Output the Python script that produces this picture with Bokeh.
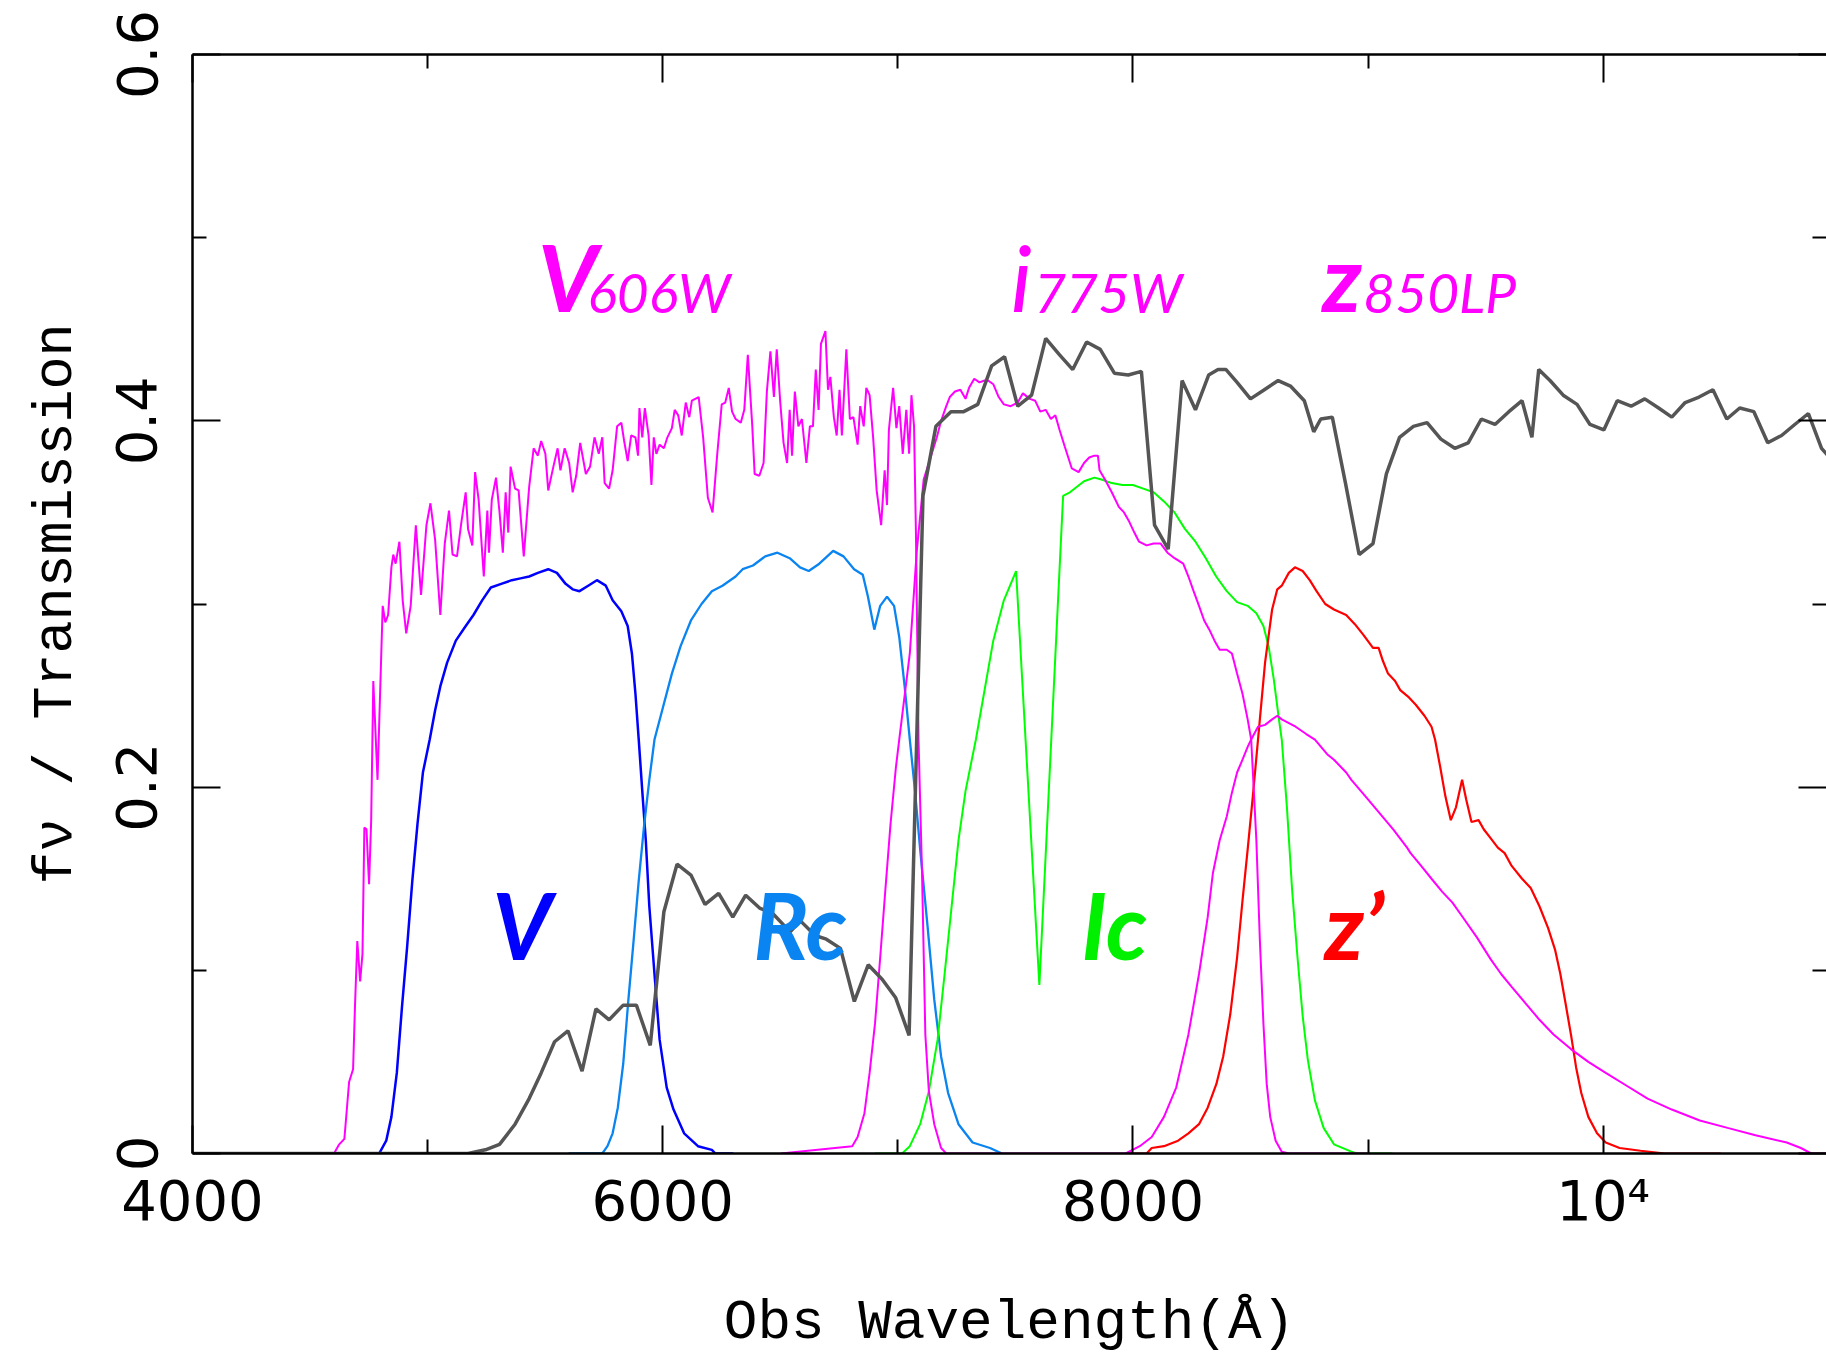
from bokeh.plotting import figure
from bokeh.models import FixedTicker, LinearAxis, Range1d
from bokeh.core.properties import value
from bokeh.embed import file_html
from bokeh.resources import INLINE

# ---------------- data ----------------
GAL_WL = [4000, 5172, 5246, 5306, 5372, 5432, 5483, 5540, 5597, 5657, 5716, 5772, 5832, 5888, 5947,
          6005, 6061, 6120, 6180, 6238, 6298, 6353, 6412, 6468, 6542, 6586, 6648, 6696, 6756, 6815,
          6874, 6934, 6991, 7048, 7107, 7162, 7226, 7280, 7340, 7399, 7454, 7510, 7569, 7629, 7688,
          7744, 7803, 7861, 7921, 7980, 8036, 8092, 8150, 8209, 8266, 8322, 8362, 8396, 8443, 8500,
          8559, 8618, 8670, 8729, 8769, 8799, 8848, 8904, 8962, 9021, 9078, 9134, 9193, 9251, 9310,
          9369, 9426, 9482, 9540, 9599, 9655, 9697, 9726, 9774, 9830, 9889, 9944, 10003, 10060, 10119,
          10177, 10236, 10292, 10349, 10408, 10467, 10526, 10581, 10641, 10700, 10759, 10815, 10873,
          10929, 10956, 11000]
GAL_FNU = [0.0, 0.0, 0.002, 0.005, 0.016, 0.030, 0.044, 0.061, 0.067, 0.045, 0.079, 0.073, 0.081, 0.081, 0.059,
           0.132, 0.158, 0.152, 0.136, 0.142, 0.129, 0.141, 0.134, 0.131, 0.121, 0.127, 0.119, 0.117, 0.112, 0.083,
           0.103, 0.095, 0.085, 0.0645, 0.359, 0.397, 0.405, 0.405, 0.409, 0.430, 0.435, 0.408, 0.414, 0.445, 0.436,
           0.428, 0.443, 0.439, 0.426, 0.425, 0.427, 0.343, 0.330, 0.422, 0.406, 0.425, 0.428, 0.428, 0.421, 0.412,
           0.417, 0.422, 0.419, 0.411, 0.394, 0.401, 0.402, 0.366, 0.327, 0.333, 0.371, 0.391, 0.397, 0.399, 0.390,
           0.385, 0.388, 0.401, 0.398, 0.405, 0.411, 0.391, 0.428, 0.422, 0.414, 0.409, 0.398, 0.395, 0.411, 0.408,
           0.412, 0.407, 0.402, 0.410, 0.413, 0.417, 0.401, 0.407, 0.405, 0.388, 0.392, 0.398, 0.404,
           0.385, 0.381, 0.372]

V606_WL = [4500, 4602, 4624, 4646, 4657, 4666, 4683, 4691, 4701, 4713, 4723, 4731, 4740, 4751, 4760, 4769, 4787,
           4809, 4820, 4832, 4846, 4854, 4864, 4880, 4894, 4909, 4928, 4950, 4972, 4995, 5012, 5032, 5054, 5073,
           5091, 5106, 5125, 5143, 5162, 5172, 5190, 5202, 5217, 5239, 5254, 5261, 5273, 5291, 5306, 5320, 5332,
           5343, 5353, 5372, 5387, 5409, 5432, 5451, 5469, 5483, 5501, 5513, 5535, 5553, 5565, 5583, 5602, 5617,
           5632, 5649, 5673, 5691, 5710, 5728, 5743, 5753, 5772, 5787, 5806, 5824, 5836, 5851, 5866, 5884, 5895,
           5901, 5913, 5924, 5940, 5952, 5962, 5973, 5987, 6005, 6020, 6039, 6051, 6066, 6081, 6098, 6113, 6124,
           6153, 6172, 6192, 6212, 6232, 6251, 6266, 6281, 6295, 6310, 6332, 6347, 6362, 6381, 6391, 6411, 6429,
           6443, 6458, 6473, 6485, 6500, 6514, 6529, 6540, 6550, 6562, 6577, 6592, 6611, 6626, 6639, 6651, 6663,
           6673, 6692, 6703, 6713, 6728, 6740, 6752, 6762, 6781, 6796, 6811, 6829, 6840, 6855, 6866, 6880, 6895,
           6910, 6929, 6944, 6954, 6962, 6980, 6994, 7006, 7021, 7036, 7048, 7058, 7069, 7077, 7088, 7103, 7117,
           7132, 7155, 7184, 7206, 8000]
V606_T = [0.0, 0.0, 0.005, 0.008, 0.025, 0.039, 0.046, 0.080, 0.116, 0.094, 0.109, 0.178, 0.177, 0.147, 0.182, 0.258, 0.204,
          0.299, 0.290, 0.294, 0.320, 0.327, 0.322, 0.334, 0.302, 0.284, 0.299, 0.343, 0.305, 0.343, 0.355, 0.335, 0.294, 0.333,
          0.351, 0.327, 0.326, 0.344, 0.361, 0.341, 0.332, 0.372, 0.357, 0.315, 0.351, 0.328, 0.357, 0.369, 0.350, 0.328, 0.361,
          0.339, 0.375, 0.363, 0.362, 0.326, 0.364, 0.385, 0.381, 0.389, 0.382, 0.362, 0.375, 0.385, 0.373, 0.385, 0.377, 0.361,
          0.370, 0.388, 0.371, 0.375, 0.391, 0.382, 0.391, 0.366, 0.363, 0.373, 0.397, 0.399, 0.389, 0.378, 0.392, 0.391, 0.381,
          0.407, 0.391, 0.407, 0.392, 0.365, 0.391, 0.382, 0.387, 0.385, 0.391, 0.396, 0.406, 0.403, 0.392, 0.410, 0.402, 0.411,
          0.413, 0.391, 0.358, 0.350, 0.382, 0.409, 0.410, 0.418, 0.405, 0.401, 0.399, 0.406, 0.436, 0.397, 0.371, 0.370, 0.377,
          0.416, 0.438, 0.413, 0.439, 0.410, 0.388, 0.377, 0.406, 0.381, 0.416, 0.397, 0.401, 0.377, 0.397, 0.397, 0.428, 0.406,
          0.442, 0.449, 0.417, 0.424, 0.402, 0.392, 0.417, 0.392, 0.439, 0.401, 0.402, 0.387, 0.408, 0.397, 0.418, 0.414, 0.391,
          0.362, 0.343, 0.373, 0.354, 0.395, 0.418, 0.396, 0.408, 0.382, 0.406, 0.382, 0.414, 0.397, 0.339, 0.226, 0.153, 0.065,
          0.034, 0.016, 0.003, 0.0, 0.0]

I775_WL = [6503, 6806, 6829, 6858, 6880, 6903, 6925, 6947, 6969, 6992, 7006, 7051, 7080, 7110, 7166, 7184, 7206,
           7221, 7243, 7266, 7288, 7303, 7325, 7347, 7369, 7384, 7406, 7429, 7451, 7480, 7510, 7532, 7562, 7584,
           7606, 7629, 7651, 7670, 7688, 7710, 7740, 7769, 7792, 7814, 7836, 7851, 7858, 7881, 7910, 7940, 7962,
           7984, 8006, 8026, 8058, 8088, 8118, 8147, 8177, 8214, 8236, 8258, 8281, 8303, 8325, 8347, 8369, 8399,
           8421, 8443, 8466, 8488, 8503, 8525, 8540, 8555, 8569, 8584, 8607, 8633, 8663, 9000]
I775_T = [0.0, 0.004, 0.009, 0.022, 0.044, 0.071, 0.107, 0.144, 0.180, 0.211, 0.226, 0.273, 0.328, 0.368, 0.391, 0.400, 0.408,
          0.413, 0.416, 0.417, 0.412, 0.418, 0.423, 0.421, 0.422, 0.422, 0.420, 0.413, 0.409, 0.408, 0.410, 0.415, 0.412, 0.411,
          0.405, 0.406, 0.401, 0.403, 0.395, 0.386, 0.374, 0.372, 0.377, 0.380, 0.381, 0.381, 0.373, 0.368, 0.361, 0.353, 0.350,
          0.345, 0.339, 0.334, 0.332, 0.333, 0.333, 0.328, 0.325, 0.322, 0.315, 0.307, 0.299, 0.291, 0.286, 0.280, 0.275, 0.275,
          0.273, 0.262, 0.251, 0.237, 0.226, 0.171, 0.116, 0.071, 0.038, 0.020, 0.007, 0.001, 0.0, 0.0]

Z850_WL = [7969, 8029, 8080, 8132, 8184, 8236, 8281, 8318, 8340, 8369, 8399, 8421, 8443, 8466, 8488, 8503, 8532,
           8562, 8592, 8614, 8633, 8692, 8737, 8774, 8826, 8855, 8907, 8929, 8989, 9048, 9107, 9166, 9181, 9226,
           9270, 9315, 9359, 9403, 9463, 9522, 9566, 9611, 9670, 9729, 9789, 9863, 9937, 10011, 10100, 10189,
           10292, 10411, 10529, 10648, 10781, 10841, 10885, 11000]
Z850_T = [0.0, 0.004, 0.009, 0.020, 0.036, 0.065, 0.098, 0.129, 0.153, 0.171, 0.184, 0.197, 0.208, 0.215, 0.222, 0.226, 0.233,
          0.234, 0.237, 0.239, 0.237, 0.233, 0.229, 0.226, 0.218, 0.215, 0.208, 0.204, 0.195, 0.186, 0.177, 0.167, 0.164, 0.157,
          0.150, 0.143, 0.137, 0.129, 0.118, 0.106, 0.098, 0.091, 0.082, 0.073, 0.065, 0.057, 0.050, 0.044, 0.037, 0.030,
          0.024, 0.018, 0.014, 0.010, 0.006, 0.003, 0.0, 0.0]

V_WL = [4700, 4794, 4824, 4846, 4869, 4891, 4913, 4935, 4957, 4980, 5009, 5032, 5054, 5083, 5120, 5157, 5195, 5232,
        5269, 5313, 5358, 5395, 5432, 5469, 5513, 5550, 5587, 5617, 5646, 5683, 5720, 5758, 5787, 5824, 5851, 5869,
        5884, 5898, 5913, 5928, 5943, 5965, 5987, 6017, 6046, 6091, 6150, 6209, 6224, 6300]
V_T = [0.0, 0.0, 0.007, 0.020, 0.044, 0.080, 0.113, 0.149, 0.180, 0.208, 0.226, 0.242, 0.255, 0.268, 0.280, 0.287, 0.294, 0.302,
       0.309, 0.311, 0.313, 0.314, 0.315, 0.317, 0.319, 0.317, 0.311, 0.308, 0.307, 0.310, 0.313, 0.310, 0.302, 0.296, 0.288, 0.273,
       0.251, 0.226, 0.198, 0.171, 0.135, 0.098, 0.062, 0.036, 0.024, 0.011, 0.004, 0.002, 0.0, 0.0]

RC_WL = [5600, 5743, 5765, 5787, 5809, 5832, 5854, 5876, 5898, 5920, 5943, 5965, 6002, 6039, 6076, 6120, 6165, 6209,
         6254, 6310, 6340, 6384, 6436, 6488, 6540, 6584, 6621, 6666, 6725, 6769, 6814, 6851, 6873, 6900, 6925, 6954,
         6984, 7006, 7029, 7051, 7073, 7095, 7125, 7155, 7184, 7214, 7258, 7318, 7392, 7443]
RC_T = [0.0, 0.0, 0.004, 0.011, 0.025, 0.049, 0.084, 0.116, 0.149, 0.178, 0.204, 0.226, 0.244, 0.262, 0.277, 0.291, 0.300, 0.307,
        0.310, 0.315, 0.319, 0.321, 0.326, 0.328, 0.325, 0.320, 0.318, 0.322, 0.329, 0.326, 0.319, 0.316, 0.304, 0.286, 0.299, 0.304,
        0.299, 0.282, 0.255, 0.226, 0.198, 0.166, 0.126, 0.084, 0.053, 0.033, 0.016, 0.006, 0.003, 0.0]

IC_WL = [6903, 7018, 7051, 7095, 7132, 7169, 7199, 7229, 7258, 7288, 7332, 7406, 7451, 7503, 7602, 7703, 7732, 7762,
         7792, 7836, 7866, 7910, 7955, 8000, 8044, 8088, 8132, 8177, 8221, 8266, 8310, 8354, 8399, 8443, 8488, 8525,
         8555, 8577, 8599, 8621, 8633, 8655, 8677, 8700, 8722, 8744, 8774, 8811, 8855, 8929, 8952, 9104]
IC_T = [0.0, 0.0, 0.004, 0.016, 0.034, 0.062, 0.098, 0.135, 0.171, 0.198, 0.226, 0.280, 0.302, 0.318, 0.092, 0.359, 0.361, 0.364,
        0.367, 0.369, 0.368, 0.366, 0.365, 0.365, 0.363, 0.361, 0.356, 0.350, 0.341, 0.334, 0.325, 0.315, 0.307, 0.301, 0.299, 0.295,
        0.288, 0.277, 0.259, 0.237, 0.226, 0.189, 0.144, 0.107, 0.075, 0.051, 0.029, 0.014, 0.005, 0.001, 0.0, 0.0]

ZP_WL = [7969, 8058, 8080, 8132, 8192, 8236, 8281, 8318, 8355, 8384, 8414, 8443, 8466, 8488, 8510, 8532, 8562, 8592,
         8614, 8633, 8663, 8689, 8722, 8752, 8781, 8818, 8855, 8907, 8944, 8981, 9021, 9045, 9063, 9085, 9115, 9137,
         9174, 9203, 9240, 9270, 9285, 9307, 9329, 9352, 9374, 9400, 9418, 9440, 9470, 9492, 9522, 9552, 9581, 9611,
         9655, 9692, 9729, 9766, 9796, 9818, 9840, 9863, 9885, 9907, 9937, 9974, 10011, 10070, 10159, 10263, 10500]
ZP_T = [0.0, 0.0, 0.003, 0.004, 0.007, 0.011, 0.016, 0.025, 0.038, 0.053, 0.076, 0.107, 0.138, 0.166, 0.195, 0.226, 0.268, 0.297,
        0.308, 0.310, 0.317, 0.320, 0.318, 0.313, 0.307, 0.300, 0.297, 0.294, 0.289, 0.283, 0.276, 0.276, 0.269, 0.262, 0.258, 0.253,
        0.249, 0.245, 0.239, 0.233, 0.226, 0.211, 0.195, 0.182, 0.189, 0.204, 0.193, 0.181, 0.182, 0.177, 0.172, 0.167, 0.164, 0.157,
        0.150, 0.145, 0.135, 0.123, 0.111, 0.098, 0.082, 0.065, 0.047, 0.033, 0.020, 0.011, 0.006, 0.003, 0.0015, 0.0, 0.0]

X_TICKS = [4000, 6000, 8000, 10000]
X_MINOR = [5000, 7000, 9000, 11000]
X_TICK_LABELS = {10000: "10\u2074"}
Y_TICKS = [0, 0.2, 0.4, 0.6]
Y_MINOR = [0.1, 0.3, 0.5]
Y_TICK_LABELS = {0: "0", 0.2: "0.2", 0.4: "0.4", 0.6: "0.6"}

# ---------------- figure ----------------
p = figure(width=1826, height=1357, x_range=Range1d(4000, 10950), y_range=Range1d(0, 0.6),
           output_backend="svg", toolbar_location=None,
           min_border_left=192, min_border_top=54, min_border_bottom=204, min_border_right=0)
p.outline_line_color = None
p.grid.visible = False

TICK_FONT = "DejaVu Sans"
LAB_FONT = "Liberation Mono"

def style_axis(ax):
    ax.axis_line_width = 2.5
    ax.axis_line_color = "black"
    ax.major_tick_in = 28
    ax.major_tick_out = 0
    ax.minor_tick_in = 14
    ax.minor_tick_out = 0
    ax.major_tick_line_width = 2
    ax.minor_tick_line_width = 2
    ax.major_tick_line_color = "black"
    ax.minor_tick_line_color = "black"
    ax.major_label_text_color = "black"
    ax.axis_label_text_color = "black"

xa = p.xaxis[0]
xa.ticker = FixedTicker(ticks=X_TICKS, minor_ticks=X_MINOR)
xa.major_label_overrides = X_TICK_LABELS
xa.major_label_text_font = TICK_FONT
xa.major_label_text_font_size = "56px"
xa.major_label_standoff = 14
xa.axis_label = "Obs Wavelength(\u00c5)"
xa.axis_label_text_font = LAB_FONT
xa.axis_label_text_font_size = "56px"
xa.axis_label_text_font_style = "normal"
xa.axis_label_standoff = 55
style_axis(xa)

ya = p.yaxis[0]
ya.ticker = FixedTicker(ticks=Y_TICKS, minor_ticks=Y_MINOR)
ya.major_label_overrides = Y_TICK_LABELS
ya.major_label_text_font = TICK_FONT
ya.major_label_text_font_size = "56px"
ya.major_label_orientation = "vertical"
ya.major_label_standoff = 36
ya.axis_label = "f\u03bd / Transmission"
ya.axis_label_text_font = LAB_FONT
ya.axis_label_text_font_size = "55px"
ya.axis_label_text_font_style = "normal"
ya.axis_label_standoff = 26
style_axis(ya)

top = LinearAxis(ticker=FixedTicker(ticks=X_TICKS, minor_ticks=X_MINOR))
top.major_label_overrides = {t: "" for t in X_TICKS}
style_axis(top)
p.add_layout(top, "above")
right = LinearAxis(ticker=FixedTicker(ticks=Y_TICKS, minor_ticks=Y_MINOR))
right.major_label_overrides = {t: "" for t in Y_TICKS}
style_axis(right)
right.axis_line_color = None
p.add_layout(right, "right")

# ---------------- curves ----------------
p.line(V_WL, V_T, line_color="#0000FF", line_width=2.5)
p.line(RC_WL, RC_T, line_color="#0A84F0", line_width=2.3)
p.line(IC_WL, IC_T, line_color="#00FF00", line_width=2.0)
p.line(ZP_WL, ZP_T, line_color="#FF0000", line_width=2.2)
p.line(V606_WL, V606_T, line_color="#FF00FF", line_width=2.0)
p.line(I775_WL, I775_T, line_color="#FF00FF", line_width=2.0)
p.line(Z850_WL, Z850_T, line_color="#FF00FF", line_width=2.0)
p.line(GAL_WL, GAL_FNU, line_color="#555555", line_width=3.5)

# ---------------- filter labels ----------------
BIG = "92px"
SMALL = "55px"
LFONT = value("Lato")

def label(x, y, txt, color, size, style):
    p.text(x=[x], y=[y], text=[txt], text_color=color, text_font=LFONT,
           text_font_size=size, text_font_style=style, text_baseline="alphabetic", text_align="left")

label(5470, 0.4786, "V", "#FF00FF", BIG, "bold italic")
label(5680, 0.4705, "606W", "#FF00FF", SMALL, "italic")
label(7480, 0.4786, "i", "#FF00FF", BIG, "italic")
label(7580, 0.4705, "775W", "#FF00FF", SMALL, "italic")
label(8805, 0.4786, "z", "#FF00FF", BIG, "bold italic")
label(8980, 0.4705, "850LP", "#FF00FF", SMALL, "italic")
label(5275, 0.1251, "V", "#0000FF", BIG, "bold italic")
label(6385, 0.1251, "Rc", "#0A84F0", BIG, "bold italic")
label(7780, 0.1251, "Ic", "#00F000", BIG, "bold italic")
label(8815, 0.1251, "z\u2019", "#FF0000", BIG, "bold italic")

open("out.html", "w").write(file_html(p, INLINE))
